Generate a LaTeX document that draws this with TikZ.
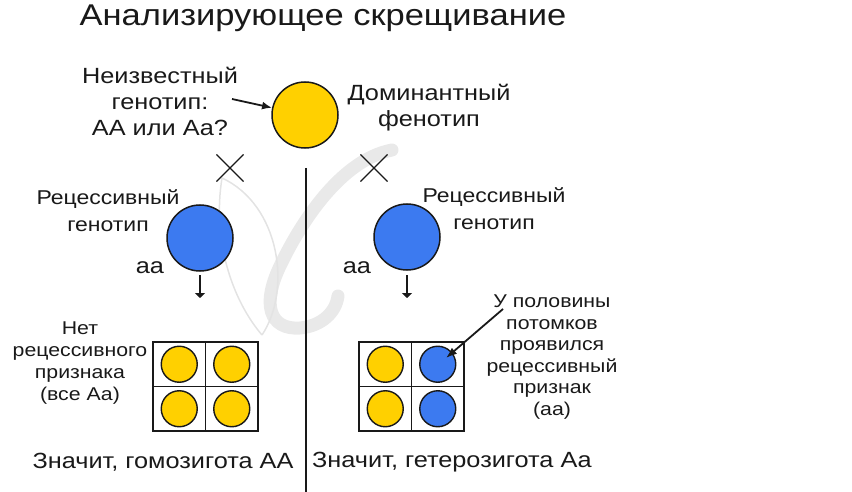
\documentclass[tikz,border=0pt]{standalone}
\usepackage{fontspec}
\setmainfont[FakeStretch=1.15]{Liberation Sans}
\usetikzlibrary{arrows.meta,shapes.misc}

\definecolor{domyellow}{RGB}{255,208,0}
\definecolor{recblue}{RGB}{60,122,240}
\definecolor{ink}{RGB}{25,25,25}

\begin{document}
\begin{tikzpicture}[x=1pt, y=-1pt]
	\tikzstyle{every node} = [text=ink, inner sep=0pt]
	\tikzstyle{lbl} = [align=center, font=\fontsize{22}{26}\selectfont]
	\tikzstyle{midlbl} = [align=center, font=\fontsize{20}{27}\selectfont]
	\tikzstyle{lowlbl} = [align=center, font=\fontsize{18.5}{22}\selectfont]
	\tikzstyle{big} = [circle, draw=ink, line width=1.5pt, minimum size=66pt]
	\tikzstyle{small} = [circle, draw=ink, line width=1.4pt, minimum size=36pt]
	\tikzstyle{cell} = [rectangle, draw=ink, line width=1.6pt, minimum width=52.5pt, minimum height=44.5pt]
	\tikzstyle{cross} = [cross out, draw=ink, line width=1.1pt, minimum size=26pt]
	\tikzstyle{water} = [draw=gray!17, line width=13pt, line cap=round]
	\useasboundingbox (0,0) rectangle (852,492);
	% watermark
	\draw [water] (392,150) .. controls (340,160) and (300,225) .. (282,262) .. controls (260,305) and (270,330) .. (300,328) .. controls (322,326) and (336,312) .. (338,296);
	\draw [gray!22, line width=1.5pt] (222,178) .. controls (280,205) and (292,290) .. (262,335);
	\draw [gray!22, line width=1.5pt] (222,178) .. controls (212,240) and (232,300) .. (262,335);
	\node (title) at (323,18) {\fontsize{30}{30}\selectfont Анализирующее скрещивание};
	\node [big, fill=domyellow] (dom) at (305,115) {};
	\node [lbl] (unk) at (160,101) {Неизвестный\\генотип:\\АА или Аа?};
	\node [lbl] (domlbl) at (429,108) {Доминантный\\фенотип};
	\node [cross] (crossL) at (230,168) {};
	\node [cross] (crossR) at (374,168) {};
	\coordinate (divtop) at (306,168);
	\coordinate (divbot) at (306,492);
	\node [big, fill=recblue] (recL) at (200,238) {};
	\node [big, fill=recblue] (recR) at (407,237) {};
	\node [midlbl] (recLlbl) at (108,211) {Рецессивный\\генотип};
	\node [midlbl] (recRlbl) at (494,209) {Рецессивный\\генотип};
	\node [lbl] (aaL) at (150,268) {аа};
	\node [lbl] (aaR) at (357,268) {аа};
	\coordinate (downLa) at (200,275);
	\coordinate (downLb) at (200,298);
	\coordinate (downRa) at (407,275);
	\coordinate (downRb) at (407,298);
	% left square
	\node [cell] (l11) at (179.25,364.25) {};
	\node [cell] (l12) at (231.75,364.25) {};
	\node [cell] (l21) at (179.25,408.75) {};
	\node [cell] (l22) at (231.75,408.75) {};
	\node [small, fill=domyellow] (pL11) at (179.25,364.25) {};
	\node [small, fill=domyellow] (pL12) at (231.75,364.25) {};
	\node [small, fill=domyellow] (pL21) at (179.25,408.75) {};
	\node [small, fill=domyellow] (pL22) at (231.75,408.75) {};
	% right square
	\node [cell] (r11) at (385.25,364.25) {};
	\node [cell] (r12) at (437.75,364.25) {};
	\node [cell] (r21) at (385.25,408.75) {};
	\node [cell] (r22) at (437.75,408.75) {};
	\node [small, fill=domyellow] (pR11) at (385.25,364.25) {};
	\node [small, fill=recblue] (pR12) at (437.75,364.25) {};
	\node [small, fill=domyellow] (pR21) at (385.25,408.75) {};
	\node [small, fill=recblue] (pR22) at (437.75,408.75) {};
	\node [lowlbl] (nolbl) at (80,363) {Нет\\рецессивного\\признака\\(все Аа)};
	\node [lowlbl, font=\fontsize{18.5}{21.5}\selectfont] (halflbl) at (552,357) {У половины\\потомков\\проявился\\рецессивный\\признак\\(аа)};
	\coordinate (halfa) at (503,309);
	\coordinate (halfb) at (446,358);
	\node [font=\fontsize{22}{22}\selectfont] (homo) at (163,462) {Значит, гомозигота АА};
	\node [font=\fontsize{22}{22}\selectfont] (hetero) at (452,462) {Значит, гетерозигота Аа};
	\draw [-{Latex[length=10pt, width=8pt]}, line width=1.8pt, ink] (232,99)--(dom);
	\draw [-, line width=1.2pt, ink] (divtop)--(divbot);
	\draw [-{Triangle[length=5pt, width=10pt]}, line width=1.1pt, ink] (downLa)--(downLb);
	\draw [-{Triangle[length=5pt, width=10pt]}, line width=1.1pt, ink] (downRa)--(downRb);
	\draw [-{Latex[length=11pt, width=8pt]}, line width=1.8pt, ink] (halfa)--(halfb);
\end{tikzpicture}
\end{document}
